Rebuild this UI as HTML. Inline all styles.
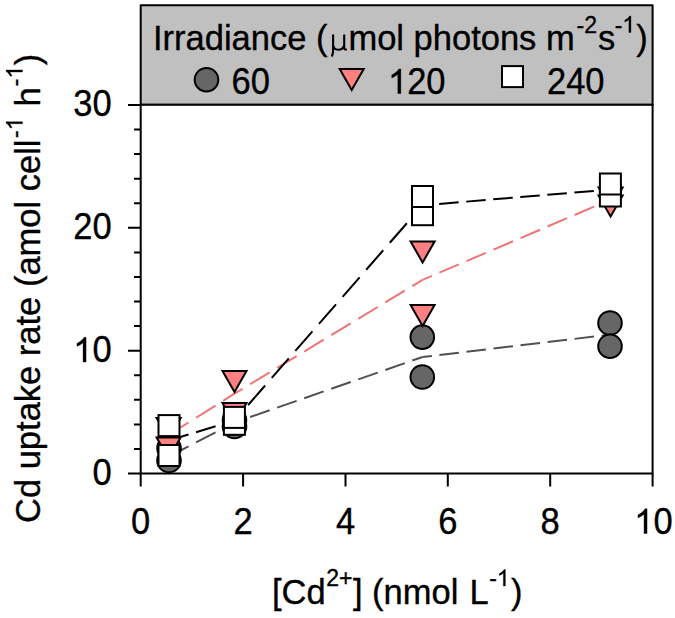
<!DOCTYPE html>
<html><head><meta charset="utf-8">
<style>
html,body{margin:0;padding:0;background:#fff;width:675px;height:618px;overflow:hidden}
svg{display:block;font-family:"Liberation Sans",sans-serif}
text{font-size:34.5px;fill:#000;stroke:#000;stroke-width:0.35px;paint-order:stroke}
.one,.ghost{fill:transparent;stroke:none}
</style></head>
<body>
<svg width="675" height="618" viewBox="0 0 675 618">
<defs>
  <circle id="c" r="11.8" fill="#666666" stroke="#000" stroke-width="2"/>
  <path id="t" d="M-12,1 L12,1 L0,22 Z" fill="#ff8080" stroke="#000" stroke-width="2" stroke-linejoin="miter"/>
  <rect id="s" x="-10.5" y="-10.5" width="21" height="21" fill="#fff" stroke="#000" stroke-width="2"/>
  <path id="one" d="M763,0 L583,0 L583,-1147 Q518,-1085 415,-1024.5 Q312,-964 222,-930 L222,-1104 Q373,-1175 486,-1276 Q599,-1377 645,-1466 L763,-1466 Z" fill="#000" stroke="#000" stroke-width="0.35" vector-effect="non-scaling-stroke"/>
</defs>
<rect x="140.7" y="5.2" width="511.9" height="99.6" fill="#c0c0c0" stroke="#000" stroke-width="2" stroke-linejoin="round"/>
<text x="153" y="50">Irradiance (<tspan font-family="Liberation Serif" class="ghost">&#181;</tspan><tspan dx="1">mol photons m</tspan><tspan font-size="23" dx="1.8" dy="-17.5">-2</tspan><tspan dx="1" dy="17.5">s</tspan><tspan font-size="23" dx="-0.5" dy="-17.5">-<tspan class="one">1</tspan></tspan><tspan dx="1" dy="17.5">)</tspan></text>
<path d="M333.1,34.6 V50.5 C333.1,53 332.6,54.8 331.8,56.5 M333.1,44.5 C333.4,48 335.5,49.8 338.2,49.8 C341,49.8 343.5,48 344.2,45 M344.2,34.6 V48 C344.2,49.3 345,49.8 346.8,49.2" fill="none" stroke="#000" stroke-width="2.1"/>
<use href="#c" x="206.5" y="79.7"/>
<text transform="translate(231.5,93.6) scale(1,1.05)" text-anchor="start">60</text>
<use href="#t" x="351.7" y="68"/>
<text transform="translate(388.0,93.6) scale(1,1.05)" text-anchor="start"><tspan class="one">1</tspan>20</text>
<use href="#s" x="512.5" y="76.6"/>
<text transform="translate(547.0,93.6) scale(1,1.05)" text-anchor="start">240</text>

<rect x="140.7" y="104.8" width="511.9" height="368.7" fill="#fff" stroke="#000" stroke-width="2"/>
<g stroke="#000" stroke-width="2" fill="none">
  <path d="M128,473.5H141 M128,350.7H141 M128,227.8H141 M128,105.0H141"/>
  <path d="M134,448.9H141 M134,424.4H141 M134,399.8H141 M134,375.2H141 M134,326.1H141 M134,301.5H141 M134,277.0H141 M134,252.4H141 M134,203.3H141 M134,178.7H141 M134,154.1H141 M134,129.6H141"/>
  <path d="M140.7,473.5V486.5 M243.1,473.5V486.5 M345.5,473.5V486.5 M447.8,473.5V486.5 M550.2,473.5V486.5 M652.6,473.5V486.5"/>
</g>
<text transform="translate(111.6,116.3) scale(1,1.05)" text-anchor="end">30</text>
<text transform="translate(111.6,239.1) scale(1,1.05)" text-anchor="end">20</text>
<text transform="translate(111.6,362.0) scale(1,1.05)" text-anchor="end"><tspan class="one">1</tspan>0</text>
<text transform="translate(111.6,484.8) scale(1,1.05)" text-anchor="end">0</text>
<text transform="translate(140.7,533.5) scale(1,1.05)" text-anchor="middle">0</text>
<text transform="translate(243.1,533.5) scale(1,1.05)" text-anchor="middle">2</text>
<text transform="translate(345.5,533.5) scale(1,1.05)" text-anchor="middle">4</text>
<text transform="translate(447.8,533.5) scale(1,1.05)" text-anchor="middle">6</text>
<text transform="translate(550.2,533.5) scale(1,1.05)" text-anchor="middle">8</text>
<text transform="translate(653.4,533.5) scale(1,1.05)" text-anchor="middle"><tspan class="one">1</tspan>0</text>
<text x="272" y="603.5">[Cd<tspan font-size="23" dx="0.5" dy="-17.5">2+</tspan><tspan dx="0.5" dy="17.5">] (nmol </tspan><tspan dx="1.5">L</tspan><tspan font-size="23" dx="0.5" dy="-17.5">-<tspan class="one">1</tspan></tspan><tspan dx="1.5" dy="17.5">)</tspan></text>
<g transform="translate(40,523) rotate(-90)"><text x="0" y="0">Cd uptake rate (amol cell<tspan font-size="23" dx="1.5" dy="-17.5">-<tspan class="one">1</tspan></tspan><tspan dx="1.5" dy="17.5"> h</tspan><tspan font-size="23" dx="1" dy="-17.5">-<tspan class="one">1</tspan></tspan><tspan dx="0.5" dy="17.5">)</tspan></text></g>
<use href="#one" transform="matrix(0.01123 0.00000 0.00000 0.01123 622.35 32.50)"/>
<use href="#one" transform="matrix(0.01685 0.00000 0.00000 0.01685 388.00 93.60)"/>
<use href="#one" transform="matrix(0.01685 0.00000 0.00000 0.01685 73.23 362.00)"/>
<use href="#one" transform="matrix(0.01685 0.00000 0.00000 0.01685 634.21 533.50)"/>
<use href="#one" transform="matrix(0.01123 0.00000 0.00000 0.01123 496.81 586.00)"/>
<use href="#one" transform="matrix(0.00000 -0.01123 0.01123 0.00000 22.50 130.31)"/>
<use href="#one" transform="matrix(0.00000 -0.01123 0.01123 0.00000 22.50 78.56)"/>
<g fill="none" stroke-width="2.0">
  <line x1="169" y1="456.5" x2="234.5" y2="422.5" stroke="#505050" stroke-dasharray="21.97 8.50" stroke-dashoffset="0.00"/>
  <line x1="234.5" y1="422.5" x2="422.5" y2="357" stroke="#505050" stroke-dasharray="20.65 7.98" stroke-dashoffset="12.09"/>
  <line x1="422.5" y1="357" x2="610.4" y2="334.6" stroke="#505050" stroke-dasharray="19.64 7.59" stroke-dashoffset="10.21"/>
  <line x1="169" y1="434.7" x2="234.5" y2="393.7" stroke="#f07474" stroke-dasharray="23.01 8.90" stroke-dashoffset="0.00"/>
  <line x1="234.5" y1="393.7" x2="422.5" y2="279.9" stroke="#f07474" stroke-dasharray="22.79 8.81" stroke-dashoffset="13.35"/>
  <line x1="422.5" y1="279.9" x2="610.4" y2="199.7" stroke="#f07474" stroke-dasharray="21.20 8.20" stroke-dashoffset="11.03"/>
  <line x1="169" y1="440.4" x2="234.5" y2="420.6" stroke="#000" stroke-dasharray="20.37 7.88" stroke-dashoffset="0.00"/>
  <line x1="234.5" y1="420.6" x2="422.5" y2="205.3" stroke="#000" stroke-dasharray="25.89 10.01" stroke-dashoffset="15.16"/>
  <line x1="422.5" y1="205.3" x2="610.4" y2="189.5" stroke="#000" stroke-dasharray="19.57 7.57" stroke-dashoffset="10.44"/>
</g>
<use href="#c" x="169" y="448"/>
<use href="#c" x="169" y="460.5"/>
<use href="#c" x="234.5" y="420"/>
<use href="#c" x="234.5" y="426.5"/>
<use href="#c" x="422.3" y="337.1"/>
<use href="#c" x="422.3" y="377"/>
<use href="#c" x="610" y="323"/>
<use href="#c" x="610" y="346.2"/>
<use href="#t" x="168.6" y="417"/>
<use href="#t" x="168.6" y="436.5"/>
<use href="#t" x="234.5" y="370"/>
<use href="#t" x="234.5" y="402"/>
<use href="#t" x="422.6" y="240.5"/>
<use href="#t" x="422.6" y="304"/>
<use href="#t" x="610.6" y="186.5"/>
<use href="#t" x="610.6" y="194.5"/>
<use href="#s" x="169" y="455.5"/>
<use href="#s" x="169" y="425.6"/>
<use href="#s" x="234.4" y="424.3"/>
<use href="#s" x="234.4" y="417.4"/>
<use href="#s" x="422.5" y="214.7"/>
<use href="#s" x="422.5" y="196.5"/>
<use href="#s" x="610.4" y="196"/>
<use href="#s" x="610.4" y="184"/>
</svg>
</body></html>
